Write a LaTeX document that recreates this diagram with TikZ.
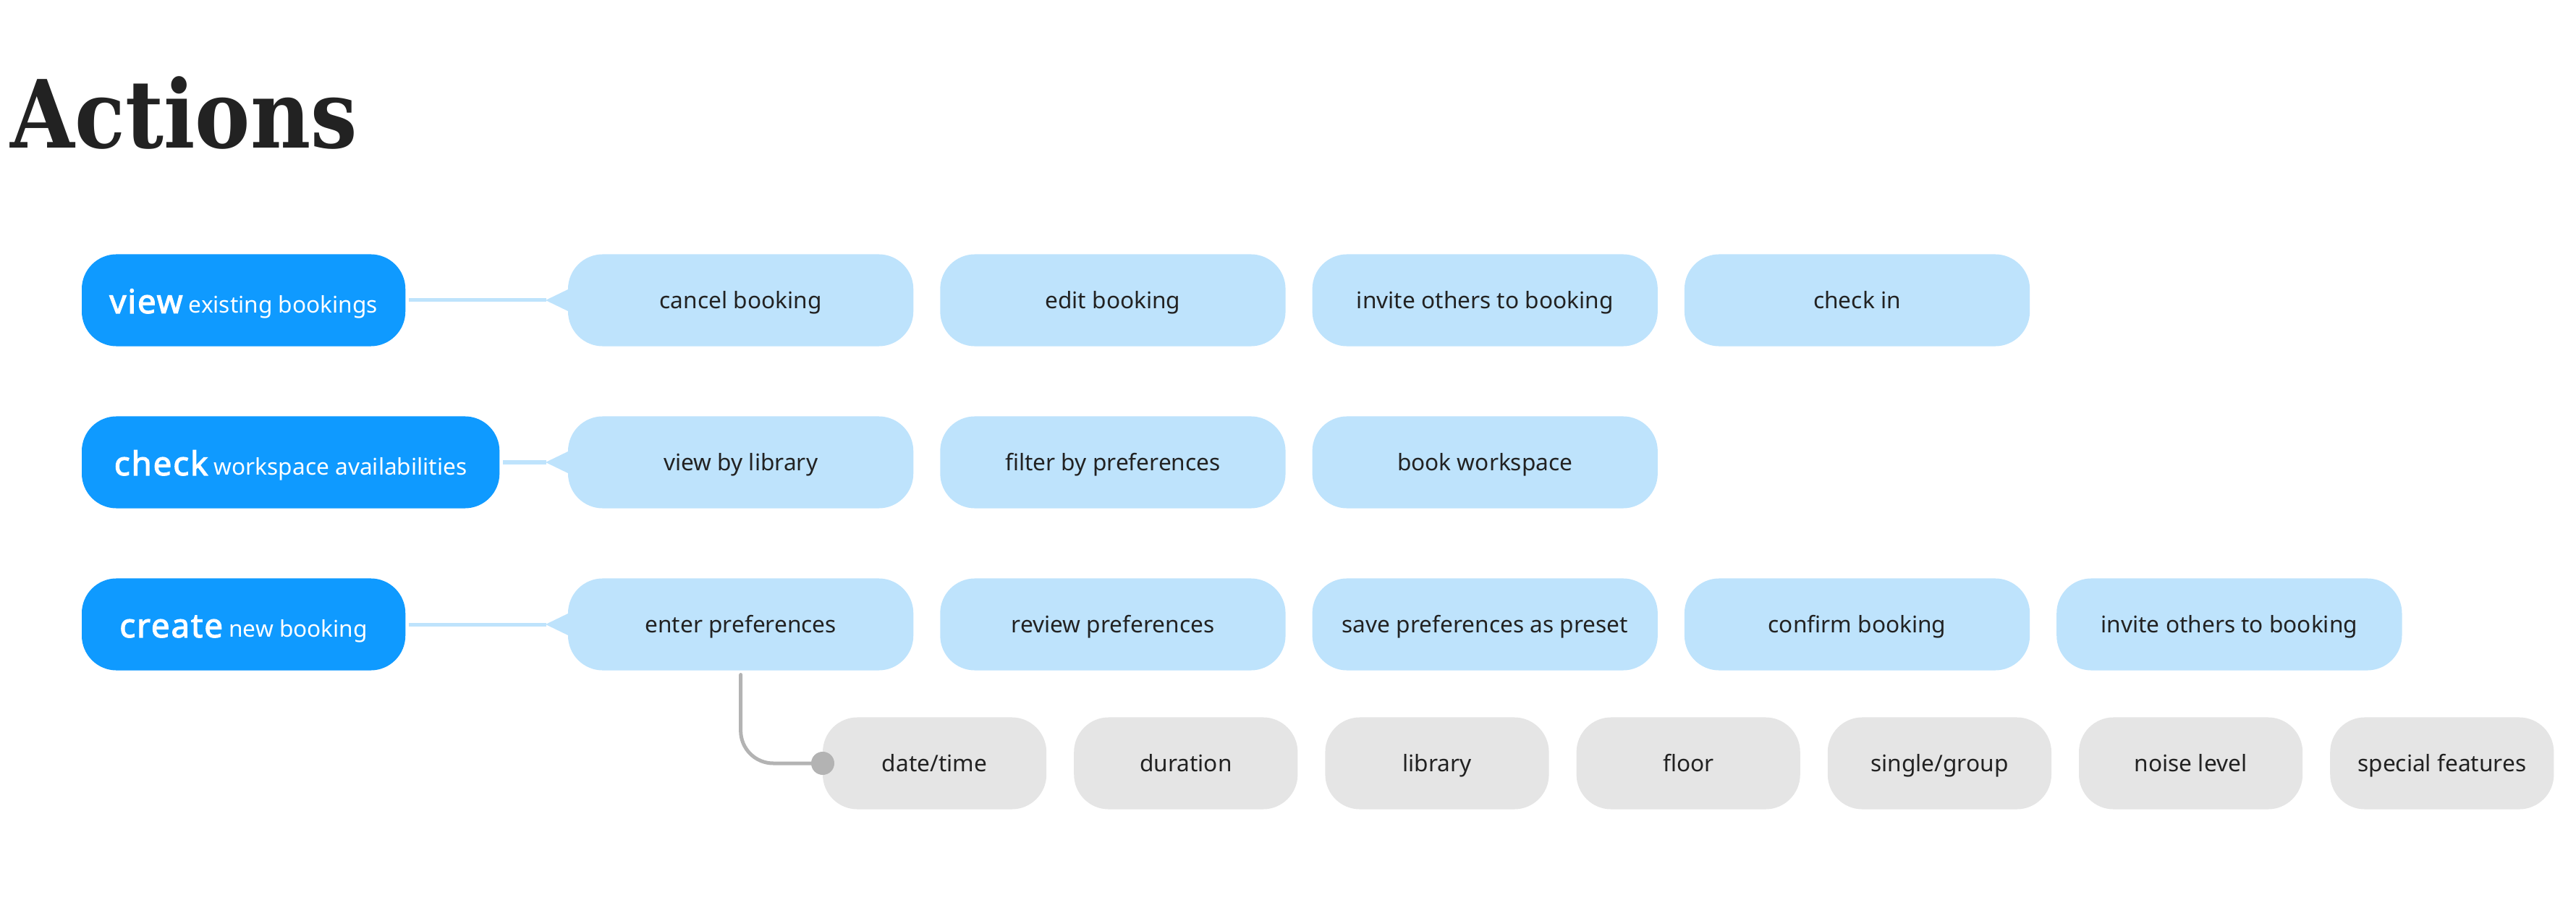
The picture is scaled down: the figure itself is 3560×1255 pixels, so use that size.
\documentclass[tikz,border=0pt]{standalone}
\usepackage{fontspec}
\setmainfont{Noto Sans}[BoldFont={Noto Sans}, BoldFeatures={FakeBold=2.5, LetterSpace=4}]
\newfontfamily\titlefont[FakeStretch=0.88]{DejaVu Serif}
\usetikzlibrary{positioning}
\definecolor{actblue}{HTML}{0F9AFF}
\definecolor{subblue}{HTML}{BEE3FC}
\definecolor{optgray}{HTML}{E5E5E5}
\definecolor{linkgray}{HTML}{B3B3B3}
\definecolor{ink}{HTML}{222222}
\newcommand{\verbfont}{\bfseries\fontsize{13}{15}\selectfont}

\begin{document}
\begin{tikzpicture}[x=0.01cm, y=-0.01cm,
	action/.style={fill=actblue, text=white, rounded corners=0.48cm, outer sep=0pt, minimum height=1.27cm, minimum width=4.47cm, text height=11pt, text depth=0.8pt, font=\fontsize{9}{11}\selectfont},
	sub/.style={fill=subblue, text=ink, rounded corners=0.48cm, outer sep=0pt, minimum height=1.27cm, minimum width=4.77cm, text height=8pt, text depth=1.2pt, font=\fontsize{9}{11}\selectfont},
	opt/.style={fill=optgray, text=ink, rounded corners=0.48cm, outer sep=0pt, minimum height=1.27cm, minimum width=3.09cm, text height=8pt, text depth=1.2pt, font=\fontsize{9}{11}\selectfont},
	link/.style={subblue, line width=0.05cm},
	node distance=0.37cm]
	\useasboundingbox (0,0) rectangle (3560,1255);

	\node[anchor=base west, inner sep=0pt, text=ink, font=\titlefont\bfseries\fontsize{37}{40}\selectfont] (title) at (14,205) {Actions};

	% view row
	\node[action, anchor=west] (view) at (113,415) {{\verbfont view} existing bookings};
	\node[sub, anchor=west] (cancel) at (785,415) {cancel booking};
	\node[sub, right=of cancel] (edit) {edit booking};
	\node[sub, right=of edit] (invite1) {invite others to booking};
	\node[sub, right=of invite1] (checkin) {check in};

	% check row
	\node[action, anchor=west, minimum width=5.77cm] (check) at (113,639) {{\verbfont check} workspace availabilities};
	\node[sub, anchor=west] (bylib) at (785,639) {view by library};
	\node[sub, right=of bylib] (filter) {filter by preferences};
	\node[sub, right=of filter] (book) {book workspace};

	% create row
	\node[action, anchor=west] (create) at (113,863) {{\verbfont create} new booking};
	\node[sub, anchor=west] (enter) at (785,863) {enter preferences};
	\node[sub, right=of enter] (review) {review preferences};
	\node[sub, right=of review] (preset) {save preferences as preset};
	\node[sub, right=of preset] (confirm) {confirm booking};
	\node[sub, right=of confirm] (invite2) {invite others to booking};

	% preferences
	\node[opt, anchor=west] (datetime) at (1137,1055) {date/time};
	\node[opt, right=0.38cm of datetime] (duration) {duration};
	\node[opt, right=0.38cm of duration] (library) {library};
	\node[opt, right=0.38cm of library] (floor) {floor};
	\node[opt, right=0.38cm of floor] (group) {single/group};
	\node[opt, right=0.38cm of group] (noise) {noise level};
	\node[opt, right=0.38cm of noise] (special) {special features};

	\draw[link] ([xshift=0.05cm]view.east) -- ([xshift=-0.3cm]cancel.west);
	\fill[subblue] ([xshift=-0.31cm]cancel.west) -- ([xshift=0.02cm, yshift=0.16cm]cancel.west) -- ([xshift=0.02cm, yshift=-0.16cm]cancel.west) -- cycle;
	\draw[link] ([xshift=0.05cm]check.east) -- ([xshift=-0.3cm]bylib.west);
	\fill[subblue] ([xshift=-0.31cm]bylib.west) -- ([xshift=0.02cm, yshift=0.16cm]bylib.west) -- ([xshift=0.02cm, yshift=-0.16cm]bylib.west) -- cycle;
	\draw[link] ([xshift=0.05cm]create.east) -- ([xshift=-0.3cm]enter.west);
	\fill[subblue] ([xshift=-0.31cm]enter.west) -- ([xshift=0.02cm, yshift=0.16cm]enter.west) -- ([xshift=0.02cm, yshift=-0.16cm]enter.west) -- cycle;

	\draw[linkgray, line width=0.05cm, line cap=round, rounded corners=0.45cm] ([yshift=-0.06cm]enter.south) |- (datetime.west);
	\fill[linkgray] (datetime.west) circle (0.16cm);
\end{tikzpicture}
\end{document}
